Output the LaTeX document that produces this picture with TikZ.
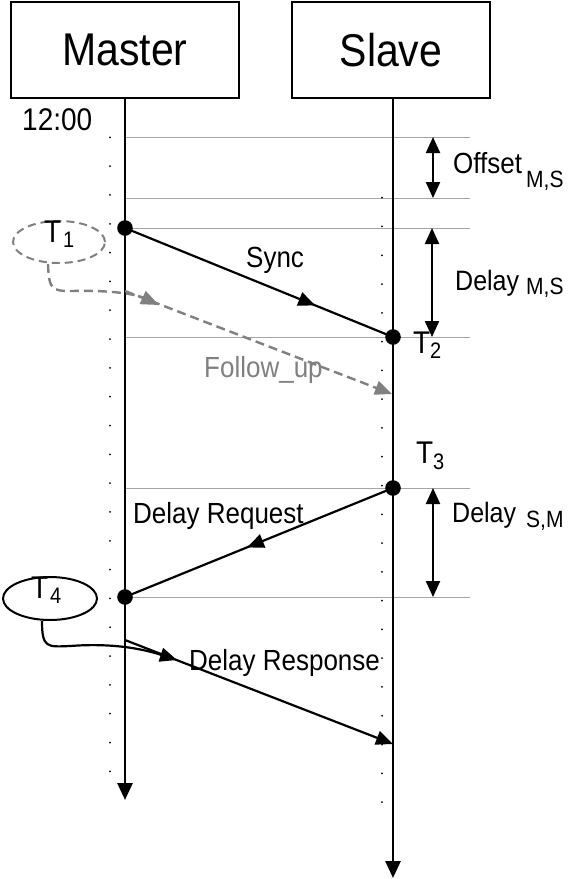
\documentclass[tikz,border=0pt]{standalone}
\usepackage{fontspec}
\setmainfont{Liberation Sans}
\usepackage{graphicx}
\usetikzlibrary{arrows.meta,shapes.geometric,decorations.markings}
\definecolor{refgray}{RGB}{165,165,165}
\definecolor{fugray}{RGB}{128,128,128}
\newcommand{\vst}[1]{\scalebox{1}[1.12]{#1}}
\newcommand{\fsz}[1]{\fontsize{#1}{#1}\selectfont}
\begin{document}
\begin{tikzpicture}[x=1pt,y=-1pt,
  box/.style={draw,line width=1.3pt,inner sep=0pt},
  life/.style={line width=2.8pt,-{Triangle[length=17pt,width=15pt]}},
  refl/.style={draw=refgray,line width=1pt},
  msg/.style={line width=2.2pt},
  midtip/.style={postaction={decorate},decoration={markings,mark=at position #1 with {\arrow{Triangle[length=17pt,width=14pt]}}}},
  fu/.style={draw=fugray,line width=2.4pt,dash pattern=on 9pt off 5pt},
  dblarr/.style={line width=2.2pt,{Triangle[length=16pt,width=14pt]}-{Triangle[length=16pt,width=14pt]}},
  txt/.style={anchor=base west,inner sep=0pt}
]
\useasboundingbox (0,0) rectangle (568,879);

% boxes
\node[box,minimum width=228pt,minimum height=96pt] (master) at (125,50) {\fsz{41}\vst{Master}};
\node[box,minimum width=198pt,minimum height=96pt] (slave) at (391,50) {\fsz{41}\vst{Slave}};

% reference lines
\foreach \yy in {137,198,228,337,488,597}
  \draw[refl] (125,\yy) -- (470,\yy);

% event coordinates
\coordinate (mEnd) at (125,800);
\coordinate (sEnd) at (393,878);
\coordinate (m1) at (125,228);
\coordinate (s2) at (393,337);
\coordinate (fu0) at (125,291);
\coordinate (fuE) at (392,394);
\coordinate (fuMid) at (159,305);
\coordinate (s3) at (393,488);
\coordinate (m4) at (125,597);
\coordinate (dr0) at (125,640);
\coordinate (drE) at (393,744);
\coordinate (drMid) at (177,660);

% clock ticks
\foreach \k in {0,...,22}
  \fill (110,137.3+\k*28.82) circle (1pt);
\foreach \k in {0,...,21}
  \fill (382,197.7+\k*28.78) circle (1pt);

% lifelines
\draw[life] (master.south) -- (mEnd);
\draw[life] (slave.south -| sEnd) -- (sEnd);

% messages
\draw[msg,midtip=0.71] (m1) -- (s2);
\draw[fu,-{Triangle[length=17pt,width=14pt]}] (fu0) -- (fuE);
\draw[msg,midtip=0.545] (s3) -- (m4);
\draw[msg,-{Triangle[length=17pt,width=14pt]}] (dr0) -- (drE);

% event dots
\foreach \p in {m1,s2,s3,m4}
  \fill (\p) circle (7.8pt);

% T1 annotation
\node[ellipse,draw=fugray,line width=2pt,dash pattern=on 8pt off 5pt,minimum width=92pt,minimum height=42pt,inner sep=0pt] (t1) at (59,242) {};
\node[txt] (t1a) at (44,242) {\fsz{28}\vst{T}};
\node[txt] (t1b) at (63,247) {\fsz{20}\vst{1}};
\draw[fu,-{Triangle[length=18pt,width=14pt]}] ([xshift=-11pt]t1.south) .. controls (49,290) and (52,291) .. (72,291) .. controls (110,290) and (135,294) .. (fuMid);

% T4 annotation
\node[ellipse,draw,line width=2pt,minimum width=94pt,minimum height=43pt,inner sep=0pt] (t4) at (50,598.5) {};
\node[txt] (t4a) at (31,598) {\fsz{28}\vst{T}};
\node[txt] (t4b) at (50,603) {\fsz{20}\vst{4}};
\draw[msg,-{Triangle[length=17pt,width=14pt]}] ([xshift=-8pt]t4.south) .. controls (42,648) and (47,647) .. (70,646) .. controls (110,643) and (140,648) .. (drMid);

% T2, T3
\node[txt] (t2a) at (413,353) {\fsz{28}\vst{T}};
\node[txt] (t2b) at (430,358) {\fsz{20}\vst{2}};
\node[txt] (t3a) at (416,463) {\fsz{28}\vst{T}};
\node[txt] (t3b) at (433,469) {\fsz{20}\vst{3}};

% interval arrows
\coordinate (oTop) at (433,137);
\coordinate (oBot) at (433,198);
\coordinate (dmsTop) at (432,228);
\coordinate (dmsBot) at (432,337);
\coordinate (dsmTop) at (433,488);
\coordinate (dsmBot) at (433,597);
\draw[dblarr] (oTop) -- (oBot);
\draw[dblarr] (dmsTop) -- (dmsBot);
\draw[dblarr] (dsmTop) -- (dsmBot);

% right labels
\node[txt] (loff) at (453,173) {\fsz{26}\vst{Offset}};
\node[txt] (loffs) at (526,187) {\fsz{21}\vst{M,S}};
\node[txt] (ldms) at (455,290) {\fsz{25}\vst{Delay}};
\node[txt] (ldmss) at (526,294) {\fsz{21}\vst{M,S}};
\node[txt] (ldsm) at (452,522) {\fsz{25}\vst{Delay}};
\node[txt] (ldsms) at (526,527) {\fsz{21}\vst{S,M}};

% message labels
\node[txt] (lclk) at (22,130) {\fsz{28}\vst{12:00}};
\node[txt] (lsync) at (246,267) {\fsz{26}\vst{Sync}};
\node[txt,text=fugray] (lfu) at (204,377) {\fsz{26}\vst{Follow\_up}};
\node[txt] (ldreq) at (133,523) {\fsz{26}\vst{Delay Request}};
\node[txt] (ldres) at (189,670) {\fsz{26}\vst{Delay Response}};
\end{tikzpicture}
\end{document}
